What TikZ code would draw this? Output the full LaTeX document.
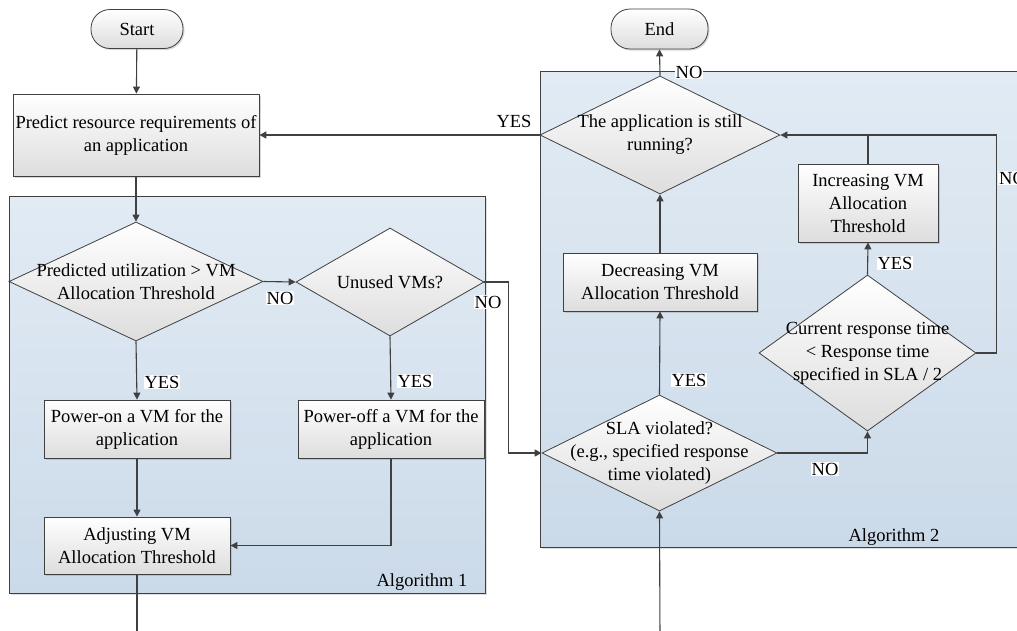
\documentclass[tikz,border=0pt]{standalone}
\usepackage{fontspec}
\setmainfont{Liberation Serif}
\usetikzlibrary{arrows.meta,shapes.geometric,shadows}
\definecolor{ln}{HTML}{404040}
\definecolor{pantop}{HTML}{E2EBF4}
\definecolor{panbot}{HTML}{CBDAE9}
\definecolor{boxbot}{HTML}{DDDDDD}
\tikzset{
  every node/.style={font=\fontsize{18.5}{23}\selectfont},
  conn/.style={draw=ln, line width=1.1pt},
  arr/.style={conn, -{Triangle[length=7pt,width=7pt]}},
  panel/.style={draw=ln, line width=0.9pt, top color=pantop, bottom color=panbot,
    drop shadow={shadow xshift=2pt, shadow yshift=-2pt, opacity=0.25}, inner sep=0},
  box/.style={draw=ln, line width=0.8pt, top color=white, bottom color=boxbot,
    inner sep=0, align=center,
    drop shadow={shadow xshift=1.5pt, shadow yshift=-1.5pt, opacity=0.3}},
  term/.style={box, rounded corners=19pt},
  dec/.style={diamond, draw=ln, line width=0.8pt, top color=white, bottom color=boxbot, inner sep=0},
  dtext/.style={align=center, inner sep=0},
  lbl/.style={fill=white, inner sep=1pt},
  plain/.style={inner sep=0}
}
\begin{document}
\begin{tikzpicture}[x=1pt,y=-1pt]
\fill[white] (0,0) rectangle (1017,630);
\clip (0,0) rectangle (1017,630);

% panels
\node[panel, minimum width=476pt, minimum height=397pt] (alg1) at (247,394.5) {};
\node[panel, minimum width=490pt, minimum height=476pt] (alg2) at (785,309) {};
\node[plain] (alg1lbl) at (422,582) {Algorithm 1};
\node[plain] (alg2lbl) at (894,537) {Algorithm 2};

% terminals
\node[term, minimum width=92pt, minimum height=39pt] (start) at (137,29) {Start};
\node[term, minimum width=97pt, minimum height=40pt] (end) at (659.5,29) {End};

% boxes
\node[box, minimum width=246pt, minimum height=82pt] (pred) at (136,135) {Predict resource requirements of\\an application};
\node[box, minimum width=186pt, minimum height=58pt] (pon) at (137,429) {Power-on a VM for the\\application};
\node[box, minimum width=186pt, minimum height=58pt] (poff) at (391,429) {Power-off a VM for the\\application};
\node[box, minimum width=186pt, minimum height=57pt] (adj) at (137,545.5) {Adjusting VM\\Allocation Threshold};
\node[box, minimum width=194pt, minimum height=58pt] (decr) at (660,282) {Decreasing VM\\Allocation Threshold};
\node[box, minimum width=140pt, minimum height=78pt] (incr) at (868,203) {Increasing VM\\Allocation\\Threshold};

% diamonds
\node[dec, minimum width=254pt, minimum height=119pt] (d1) at (136,281.5) {};
\node[dtext] at (d1) {Predicted utilization > VM\\Allocation Threshold};
\node[dec, minimum width=188pt, minimum height=108pt] (d2) at (390,282) {};
\node[dtext] at (d2) {Unused VMs?};
\node[dec, minimum width=240pt, minimum height=118pt] (run) at (660,135) {};
\node[dtext] at (run) {The application is still\\running?};
\node[dec, minimum width=235pt, minimum height=116pt] (sla) at (659.5,453) {};
\node[dtext] at (sla) {SLA violated?\\(e.g., specified response\\time violated)};
\node[dec, minimum width=217pt, minimum height=156pt] (cur) at (867.5,353) {};
\node[dtext] at (cur) {Current response time\\< Response time\\specified in SLA / 2};

\coordinate (b1) at (137,640);
\coordinate (b2) at (660,640);

% connectors
\draw[arr] (start) -- (pred);
\draw[arr] (run.west) -- (pred.east);
\draw[arr] (pred.south) -- (d1.north);
\draw[arr] (d1.east) -- (d2.west);
\draw[arr] (d2.east) -- ++(24,0) |- (sla.west);
\draw[arr] (d1.south) -- (pon.north);
\draw[arr] (d2.south) -- (poff.north);
\draw[arr] (pon.south) -- (adj.north);
\draw[arr] (poff.south) |- (adj.east);
\draw[conn] (adj.south) -- (b1);
\draw[arr] (b2) -- (sla.south);
\draw[arr] (sla.north) -- (decr.south);
\draw[arr] (decr.north) -- (run.south);
\draw[arr] (run.north) -- (end.south);
\draw[arr] (sla.east) -| (cur.south);
\draw[arr] (cur.north) -- (incr.south);
\draw[conn] (incr.north) -- (incr.north |- run.east);
\draw[arr] (cur.east) -- ++(20,0) |- (run.east);

% labels
\node[plain] (l1) at (514,121) {YES};
\node[lbl] (l2) at (689,72) {NO};
\node[lbl] (l3) at (280,298) {NO};
\node[lbl] (l4) at (488,302) {NO};
\node[lbl] (l5) at (162,382) {YES};
\node[lbl] (l6) at (415,381) {YES};
\node[lbl] (l7) at (689,380) {YES};
\node[lbl] (l8) at (825,469) {NO};
\node[lbl] (l9) at (895,263) {YES};
\node[lbl, anchor=west] (l10) at (998,178) {NO};
\end{tikzpicture}
\end{document}
